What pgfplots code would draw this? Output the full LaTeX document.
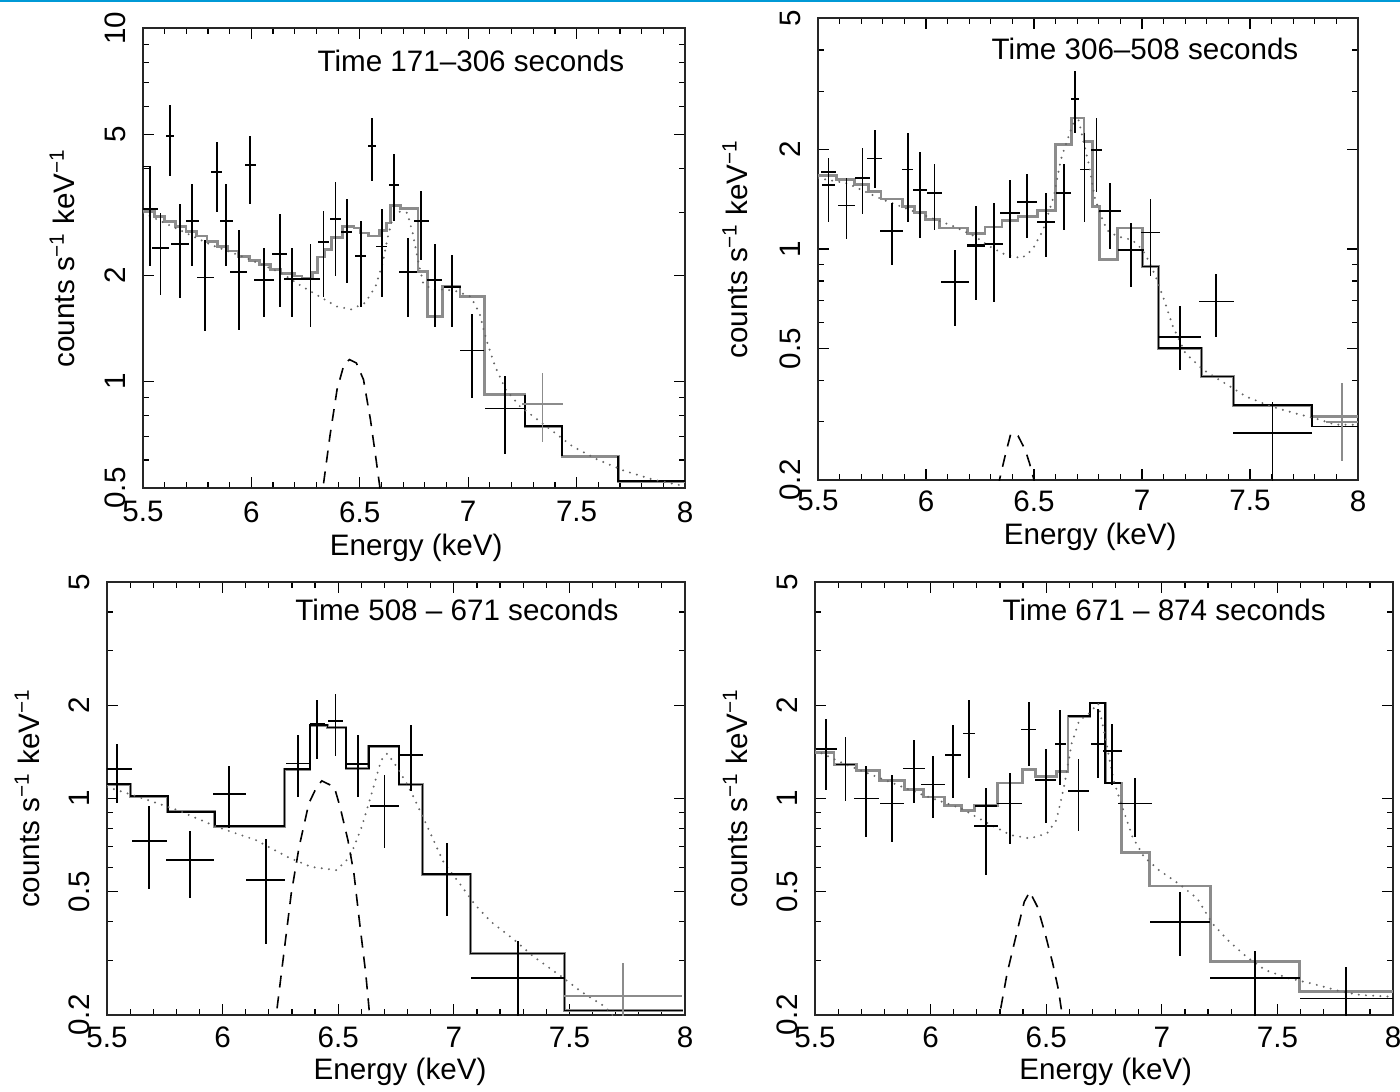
\documentclass[border=0pt]{standalone}
\usepackage{fontspec}
\setmainfont{Liberation Sans}
\usepackage{pgfplots}
\pgfplotsset{compat=1.18}
\newcommand\ff{\fontsize{14.8}{17}\selectfont}
\pgfplotsset{
  panel/.style={
    scale only axis, xmin=5.5, xmax=8, clip=true,
    xtick={5.5,6,6.5,7,7.5,8}, xticklabels={5.5,6,6.5,7,7.5,8},
    minor xtick={5.6,5.7,5.8,5.9,6.1,6.2,6.3,6.4,6.6,6.7,6.8,6.9,7.1,7.2,7.3,7.4,7.6,7.7,7.8,7.9},
    tick align=inside, major tick length=5.5pt, minor tick length=3pt,
    every tick/.style={black, line width=0.6pt},
    axis line style={black!85, line width=0.6pt},
    tick label style={font=\ff},
    label style={font=\ff},
    yticklabel style={rotate=90, anchor=south, inner sep=8.5pt},
    xlabel={Energy (keV)},
    ylabel={counts s\textsuperscript{−1} keV\textsuperscript{−1}},
  },
  lowpanel/.style={panel, ymin=0.2, ymax=5, ytick={0.2,0.5,1,2,5}, yticklabels={0.2,0.5,1,2,5},
    minor ytick={0.3,0.4,0.6,0.7,0.8,0.9,3,4}},
  errblack/.style={draw=none, mark=none, error bars/x dir=both, error bars/x explicit, error bars/y dir=both, error bars/y explicit, error bars/error mark=none, error bars/error bar style={draw=black, solid, line width=0.9pt}},
  errgray/.style={draw=none, mark=none, error bars/x dir=both, error bars/x explicit, error bars/y dir=both, error bars/y explicit, error bars/error mark=none, error bars/error bar style={draw=black!45, solid, line width=0.9pt}},
  gstep/.style={const plot, no marks, draw=black!45, line width=1.4pt},
  bstep/.style={const plot, no marks, draw=black, line width=0.8pt},
  dots/.style={no marks, draw=black!60, line width=1.1pt, line cap=round, dash pattern=on 0pt off 3.6pt},
  dashl/.style={no marks, draw=black, line width=0.8pt, dash pattern=on 6pt off 4.5pt},
}
\begin{document}
\begin{tikzpicture}
\path[use as bounding box] (0,0) rectangle (700pt,-545.5pt);
\draw[line width=1.2pt, color={rgb,255:red,0;green,153;blue,214}] (0,-0.5pt) -- (700pt,-0.5pt);

% ---------------- Panel 1 ----------------
\begin{axis}[ymode=log, panel, at={(71.5pt,-244pt)}, anchor=south west, width=271pt, height=230pt,
  ymin=0.5, ymax=10, ytick={0.5,1,2,5,10}, yticklabels={0.5,1,2,5,10},
  minor ytick={0.6,0.7,0.8,0.9,3,4,6,7,8,9},
  xticklabel style={anchor=north, inner sep=6.5pt},
  xlabel style={at={(axis description cs:0.504,-0.130)}, anchor=center},
  ylabel style={at={(axis description cs:-0.149,0.5)}, anchor=center}]
\addplot[gstep] coordinates {(5.5,3.03)(5.552,2.93)(5.601,2.84)(5.649,2.75)(5.698,2.66)(5.746,2.58)(5.795,2.49)(5.844,2.41)(5.892,2.34)(5.941,2.26)(5.990,2.20)(6.038,2.14)(6.087,2.07)(6.136,2.02)(6.200,1.99)(6.233,1.96)(6.281,2.03)(6.306,2.25)(6.338,2.36)(6.371,2.55)(6.419,2.74)(6.473,2.72)(6.505,2.63)(6.541,2.58)(6.589,2.68)(6.622,2.81)(6.641,3.15)(6.687,3.08)(6.768,2.05)(6.813,1.53)(6.881,1.86)(6.962,1.74)(7.076,0.919)(7.262,0.748)(7.433,0.615)(7.692,0.523)(8,0.523)};
\addplot[bstep] coordinates {(5.5,4.06)(5.532,3.03)};
\addplot[bstep, sharp plot] coordinates {(7.262,0.919)(7.262,0.748)(7.433,0.748)(7.433,0.615)};
\addplot[bstep, sharp plot] coordinates {(7.692,0.615)(7.692,0.523)(8,0.523)};
\addplot[dots] coordinates {(5.5,3.00)(5.649,2.72)(5.811,2.44)(5.973,2.24)(6.136,2.03)(6.233,1.86)(6.314,1.74)(6.395,1.63)(6.460,1.60)(6.525,1.67)(6.573,1.86)(6.606,2.17)(6.630,2.58)(6.654,2.93)(6.687,3.03)(6.719,3.00)(6.744,2.63)(6.768,2.21)(6.792,1.90)(6.833,1.82)(6.898,1.82)(6.946,1.80)(7.011,1.74)(7.052,1.56)(7.084,1.31)(7.124,1.105)(7.173,0.949)(7.238,0.852)(7.319,0.781)(7.400,0.716)(7.481,0.656)(7.595,0.602)(7.724,0.558)(7.854,0.528)(8.0,0.506)};
\addplot[dashl] coordinates {(6.322,0.45)(6.330,0.50)(6.362,0.70)(6.395,0.949)(6.427,1.117)(6.452,1.154)(6.484,1.129)(6.517,1.013)(6.549,0.781)(6.573,0.615)(6.593,0.50)(6.598,0.45)};
\addplot[errblack] table[x=x, y=y, x error=ex, y error plus expr=\thisrow{hi}-\thisrow{y}, y error minus expr=\thisrow{y}-\thisrow{lo}, row sep=\\] {x y ex lo hi\\
5.532 3.08 0.036 2.12 3.73\\
5.581 2.39 0.040 1.76 3.00\\
5.625 4.94 0.020 3.81 6.07\\
5.670 2.45 0.040 1.72 3.17\\
5.727 2.85 0.030 2.12 3.61\\
5.787 1.97 0.040 1.39 2.52\\
5.840 3.92 0.025 3.02 4.76\\
5.884 2.85 0.030 2.12 3.61\\
5.941 2.04 0.040 1.40 2.68\\
5.994 4.09 0.025 3.18 4.94\\
6.058 1.94 0.045 1.52 2.39\\
6.131 2.30 0.035 1.62 2.97\\
6.189 1.95 0.040 1.52 2.39\\
6.273 1.95 0.045 1.43 2.45\\
6.333 2.48 0.025 1.74 3.04\\
6.388 2.89 0.025 1.99 3.68\\
6.440 2.65 0.025 1.90 3.28\\
6.505 2.27 0.025 1.63 2.85\\
6.557 4.63 0.020 3.70 5.55\\
6.602 2.41 0.025 1.74 3.08\\
6.658 3.59 0.025 2.85 4.40\\
6.722 2.04 0.040 1.52 2.55\\
6.784 2.85 0.035 2.21 3.45\\
6.846 1.94 0.035 1.43 2.45\\
6.927 1.85 0.040 1.43 2.28\\
7.016 1.224 0.055 0.90 1.55\\
7.168 0.839 0.090 0.622 1.04\\
};
\addplot[errgray] table[x=x, y=y, x error=ex, y error plus expr=\thisrow{hi}-\thisrow{y}, y error minus expr=\thisrow{y}-\thisrow{lo}, row sep=\\] {x y ex lo hi\\
7.343 0.865 0.094 0.674 1.06\\
};
\node[font=\ff] at (rel axis cs:0.605,0.928) {Time 171\textendash 306 seconds};
\end{axis}

% ---------------- Panel 2 ----------------
\begin{axis}[ymode=log, lowpanel, at={(409pt,-240pt)}, anchor=south west, width=270pt, height=231pt,
  xticklabel style={anchor=north, inner sep=5pt},
  xlabel style={at={(axis description cs:0.504,-0.123)}, anchor=center},
  ylabel style={at={(axis description cs:-0.154,0.5)}, anchor=center}]
\addplot[gstep] coordinates {(5.5,1.665)(5.586,1.62)(5.668,1.564)(5.734,1.494)(5.792,1.416)(5.891,1.345)(5.948,1.29)(5.998,1.231)(6.064,1.157)(6.191,1.112)(6.273,1.165)(6.352,1.22)(6.426,1.254)(6.517,1.305)(6.599,2.07)(6.673,2.49)(6.731,2.12)(6.772,1.345)(6.805,0.932)(6.888,1.157)(7.003,0.885)(7.077,0.501)(7.275,0.411)(7.423,0.337)(7.786,0.311)(8,0.311)};
\addplot[bstep] coordinates {(6.191,1.03)(6.273,1.03)};
\addplot[bstep] coordinates {(6.888,0.994)(7.003,0.885)(7.077,0.501)(7.275,0.411)(7.423,0.337)(7.786,0.290)(8,0.290)};
\addplot[dots] coordinates {(5.5,1.64)(5.635,1.58)(5.800,1.41)(5.965,1.284)(6.130,1.17)(6.228,1.09)(6.294,1.018)(6.368,0.960)(6.443,0.938)(6.492,0.994)(6.542,1.14)(6.591,1.44)(6.624,1.86)(6.649,2.09)(6.682,2.40)(6.706,2.46)(6.731,2.09)(6.756,1.78)(6.780,1.44)(6.805,1.284)(6.838,1.14)(6.888,1.09)(6.954,1.066)(7.003,0.994)(7.036,0.906)(7.069,0.807)(7.102,0.702)(7.143,0.583)(7.201,0.484)(7.283,0.431)(7.382,0.393)(7.481,0.358)(7.596,0.334)(7.712,0.318)(7.827,0.304)(7.893,0.294)(8,0.294)};
\addplot[dashl] coordinates {(6.335,0.19)(6.340,0.200)(6.369,0.241)(6.393,0.277)(6.426,0.272)(6.459,0.247)(6.479,0.225)(6.500,0.200)(6.505,0.19)};
\addplot[errblack] table[x=x, y=y, x error=ex, y error plus expr=\thisrow{hi}-\thisrow{y}, y error minus expr=\thisrow{y}-\thisrow{lo}, row sep=\\] {x y ex lo hi\\
5.549 1.71 0.033 1.44 1.88\\
5.549 1.56 0.030 1.21 1.78\\
5.632 1.354 0.041 1.07 1.64\\
5.706 1.64 0.033 1.28 2.02\\
5.762 1.88 0.036 1.53 2.29\\
5.841 1.135 0.053 0.896 1.38\\
5.915 1.74 0.025 1.21 2.25\\
5.973 1.51 0.033 1.08 1.97\\
6.039 1.48 0.036 1.14 1.81\\
6.134 0.797 0.063 0.585 0.994\\
6.232 1.018 0.041 0.699 1.345\\
6.314 1.034 0.041 0.689 1.38\\
6.387 1.284 0.046 0.938 1.62\\
6.467 1.39 0.045 1.08 1.69\\
6.555 1.206 0.040 0.945 1.48\\
6.637 1.48 0.036 1.14 1.81\\
6.690 2.84 0.020 2.24 3.45\\
6.734 1.74 0.020 1.21 2.24\\
6.789 1.99 0.025 1.49 2.49\\
6.851 1.30 0.050 1.00 1.58\\
6.949 0.994 0.058 0.770 1.198\\
7.039 1.122 0.046 0.826 1.416\\
7.176 0.541 0.096 0.429 0.670\\
7.344 0.694 0.082 0.540 0.841\\
7.604 0.278 0.181 0.195 0.345\\
};
\addplot[errgray] table[x=x, y=y, x error=ex, y error plus expr=\thisrow{hi}-\thisrow{y}, y error minus expr=\thisrow{y}-\thisrow{lo}, row sep=\\] {x y ex lo hi\\
7.926 0.300 0.074 0.229 0.393\\
};
\node[font=\ff] at (rel axis cs:0.6056,0.933) {Time 306\textendash 508 seconds};
\end{axis}

% ---------------- Panel 3 ----------------
\begin{axis}[ymode=log, lowpanel, at={(53.5pt,-507.5pt)}, anchor=south west, width=289pt, height=216.5pt,
  xticklabel style={anchor=north, inner sep=5.8pt},
  xlabel style={at={(axis description cs:0.507,-0.132)}, anchor=center},
  ylabel style={at={(axis description cs:-0.138,0.5)}, anchor=center}]
\addplot[gstep] coordinates {(5.5,1.112)(5.602,1.017)(5.763,0.906)(5.966,0.814)(6.268,1.243)(6.378,1.724)(6.454,1.694)(6.534,1.25)(6.632,1.475)(6.763,1.11)(6.864,0.570)(7.073,0.316)(7.478,0.2066)(7.992,0.2066)};
\addplot[bstep] coordinates {(5.5,1.112)(5.602,1.017)(5.763,0.906)(5.966,0.814)(6.268,1.243)(6.378,1.724)(6.454,1.694)(6.534,1.25)(6.632,1.475)(6.763,1.11)(6.864,0.570)(7.073,0.316)(7.478,0.2066)(7.992,0.2066)};
\addplot[dots] coordinates {(5.5,1.09)(5.636,1.012)(5.805,0.917)(5.975,0.810)(6.144,0.734)(6.280,0.648)(6.381,0.602)(6.492,0.587)(6.551,0.648)(6.602,0.810)(6.653,1.09)(6.686,1.33)(6.712,1.397)(6.754,1.265)(6.805,1.09)(6.873,0.851)(6.958,0.617)(7.025,0.532)(7.093,0.453)(7.161,0.400)(7.263,0.349)(7.347,0.308)(7.466,0.266)(7.551,0.238)(7.653,0.213)(7.686,0.2)};
\addplot[dashl] coordinates {(6.225,0.18)(6.232,0.2)(6.263,0.308)(6.297,0.494)(6.331,0.698)(6.373,0.964)(6.407,1.09)(6.429,1.14)(6.483,1.09)(6.508,0.94)(6.542,0.734)(6.568,0.573)(6.593,0.395)(6.619,0.273)(6.636,0.2)(6.64,0.18)};
\addplot[errblack] table[x=x, y=y, x error=ex, y error plus expr=\thisrow{hi}-\thisrow{y}, y error minus expr=\thisrow{y}-\thisrow{lo}, row sep=\\] {x y ex lo hi\\
5.542 1.243 0.064 0.964 1.504\\
5.683 0.728 0.076 0.512 0.947\\
5.859 0.633 0.105 0.476 0.785\\
6.029 1.033 0.071 0.806 1.271\\
6.186 0.545 0.085 0.340 0.739\\
6.325 1.297 0.051 1.012 1.60\\
6.410 1.746 0.034 1.34 2.086\\
6.488 1.777 0.034 1.37 2.18\\
6.585 1.29 0.047 1.012 1.60\\
6.700 0.947 0.064 0.690 1.195\\
6.814 1.38 0.054 1.059 1.724\\
6.969 0.573 0.105 0.417 0.719\\
7.276 0.263 0.203 0.195 0.347\\
};
\addplot[errgray] table[x=x, y=y, x error=ex, y error plus expr=\thisrow{hi}-\thisrow{y}, y error minus expr=\thisrow{y}-\thisrow{lo}, row sep=\\] {x y ex lo hi\\
7.732 0.230 0.254 0.19 0.294\\
};
\node[font=\ff] at (rel axis cs:0.6055,0.935) {Time 508 \textendash\ 671 seconds};
\end{axis}

% ---------------- Panel 4 ----------------
\begin{axis}[ymode=log, lowpanel, at={(407.5pt,-507.5pt)}, anchor=south west, width=289pt, height=216.5pt,
  xticklabel style={anchor=north, inner sep=5.8pt},
  xlabel style={at={(axis description cs:0.503,-0.132)}, anchor=center},
  ylabel style={at={(axis description cs:-0.138,0.5)}, anchor=center}]
\addplot[gstep] coordinates {(5.5,1.407)(5.582,1.291)(5.681,1.234)(5.780,1.146)(5.887,1.069)(5.969,1.012)(6.059,0.947)(6.133,0.917)(6.191,0.947)(6.289,1.123)(6.396,1.243)(6.454,1.175)(6.544,1.225)(6.594,1.844)(6.689,2.035)(6.755,1.123)(6.824,0.668)(6.947,0.522)(7.211,0.297)(7.597,0.238)(8,0.238)};
\addplot[bstep] coordinates {(6.191,0.947)(6.289,0.947)};
\addplot[bstep] coordinates {(6.594,1.844)(6.689,2.035)(6.755,1.123)(6.824,1.123)};
\addplot[dots] coordinates {(5.5,1.432)(5.640,1.281)(5.804,1.146)(5.969,1.025)(6.133,0.928)(6.248,0.831)(6.347,0.762)(6.429,0.743)(6.503,0.771)(6.544,0.851)(6.577,1.09)(6.610,1.504)(6.643,1.789)(6.684,1.88)(6.725,2.026)(6.758,1.542)(6.791,1.146)(6.824,0.964)(6.873,0.752)(6.923,0.648)(6.988,0.587)(7.071,0.532)(7.153,0.476)(7.219,0.395)(7.285,0.349)(7.367,0.308)(7.449,0.279)(7.548,0.263)(7.646,0.253)(7.778,0.238)(7.860,0.232)(8.0,0.229)};
\addplot[dashl] coordinates {(6.29,0.18)(6.298,0.2)(6.331,0.273)(6.372,0.367)(6.405,0.464)(6.429,0.500)(6.462,0.447)(6.495,0.367)(6.528,0.294)(6.553,0.241)(6.569,0.2)(6.573,0.18)};
\addplot[errblack] table[x=x, y=y, x error=ex, y error plus expr=\thisrow{hi}-\thisrow{y}, y error minus expr=\thisrow{y}-\thisrow{lo}, row sep=\\] {x y ex lo hi\\
5.549 1.443 0.046 1.069 1.803\\
5.632 1.287 0.041 0.980 1.581\\
5.722 1.0 0.053 0.752 1.271\\
5.834 0.964 0.053 0.725 1.195\\
5.928 1.25 0.046 0.964 1.542\\
6.010 1.11 0.053 0.862 1.37\\
6.097 1.38 0.036 1.007 1.724\\
6.166 1.621 0.025 1.169 2.086\\
6.240 0.816 0.053 0.566 1.082\\
6.342 0.964 0.053 0.712 1.213\\
6.424 1.67 0.033 1.271 2.05\\
6.498 1.146 0.046 0.835 1.45\\
6.561 1.504 0.025 1.104 1.93\\
6.640 1.059 0.046 0.787 1.346\\
6.725 1.504 0.033 1.169 1.951\\
6.786 1.421 0.041 1.104 1.746\\
6.885 0.964 0.074 0.752 1.169\\
7.079 0.400 0.128 0.310 0.500\\
7.403 0.263 0.194 0.19 0.323\\
7.798 0.226 0.201 0.19 0.286\\
};
\node[font=\ff] at (rel axis cs:0.604,0.935) {Time 671 \textendash\ 874 seconds};
\end{axis}
\end{tikzpicture}
\end{document}
